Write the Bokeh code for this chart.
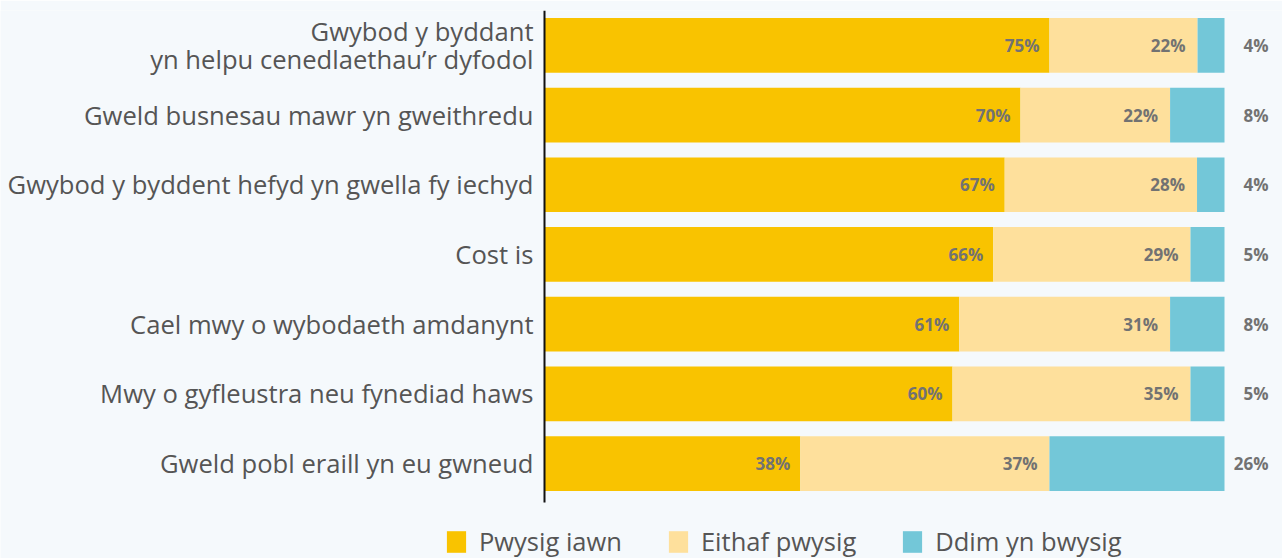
from bokeh.plotting import figure
from bokeh.models import ColumnDataSource, Range1d, Legend, LegendItem, FixedTicker
from bokeh.core.properties import value
from bokeh.embed import file_html
from bokeh.resources import INLINE

categories = [
    "Gwybod y byddant\nyn helpu cenedlaethau\u2019r dyfodol",
    "Gweld busnesau mawr yn gweithredu",
    "Gwybod y byddent hefyd yn gwella fy iechyd",
    "Cost is",
    "Cael mwy o wybodaeth amdanynt",
    "Mwy o gyfleustra neu fynediad haws",
    "Gweld pobl eraill yn eu gwneud",
]
pwysig_iawn = [75, 70, 67, 66, 61, 60, 38]
eithaf_pwysig = [22, 22, 28, 29, 31, 35, 37]
ddim_yn_bwysig = [4, 8, 4, 5, 8, 5, 26]
series_names = ["Pwysig iawn", "Eithaf pwysig", "Ddim yn bwysig"]
colors = ["#F9C300", "#FEE09C", "#73C7D8"]

BG = "#F5F9FC"
LABEL = "#555555"
PCT = "#727272"

n = len(categories)
ypos = [n - 1 - i for i in range(n)]
totals = [a + b + c for a, b, c in zip(pwysig_iawn, eithaf_pwysig, ddim_yn_bwysig)]
f1 = [a / t for a, t in zip(pwysig_iawn, totals)]
f2 = [b / t for b, t in zip(eithaf_pwysig, totals)]
f3 = [c / t for c, t in zip(ddim_yn_bwysig, totals)]
src = ColumnDataSource(dict(
    y=ypos,
    cat=categories,
    zero=[0.0] * n,
    s1=f1, s2=f2, s3=f3,
    e1=f1,
    e2=[a + b for a, b in zip(f1, f2)],
    e3=[a + b + c for a, b, c in zip(f1, f2, f3)],
    t1=[f"{v}%" for v in pwysig_iawn],
    t2=[f"{v}%" for v in eithaf_pwysig],
    t3=[f"{v}%" for v in ddim_yn_bwysig],
))

row_px = 69.7
frame_h = 558 - 10
top = n - 0.5
p = figure(
    width=1282, height=558,
    y_range=Range1d(top - frame_h / row_px, top),
    x_range=Range1d(-544 / 680, (1282 - 544) / 680),
    output_backend="svg", toolbar_location=None,
    min_border_left=0, min_border_right=0, min_border_top=10, min_border_bottom=0,
    background_fill_color=BG, border_fill_color=BG, outline_line_color=None,
)

renderers = p.hbar_stack(["s1", "s2", "s3"], y="y", height=0.785, color=colors,
                         line_color=None, source=src)

common = dict(y="y", source=src, text_font=value("Open Sans"), text_font_style="bold",
              text_font_size="17px", text_color=PCT, text_baseline="middle")
p.text(x="e1", text="t1", text_align="right", x_offset=-10, **common)
p.text(x="e2", text="t2", text_align="right", x_offset=-12, **common)
p.text(x="e3", text="t3", text_align="right", x_offset=44, **common)

# category labels, right-aligned against the axis
p.text(x="zero", y="y", text="cat", source=src, text_align="right", text_baseline="middle",
       x_offset=-11, text_font=value("Open Sans"), text_font_size="25.6px",
       text_color=LABEL, text_line_height=0.8)

p.xaxis.visible = False
p.xgrid.visible = False
p.ygrid.visible = False
yax = p.yaxis[0]
yax.fixed_location = 0
yax.ticker = FixedTicker(ticks=ypos)
yax.bounds = (-0.56, top)
yax.axis_line_color = "#111111"
yax.axis_line_width = 2
yax.major_tick_line_color = None
yax.minor_tick_line_color = None
yax.major_label_standoff = 0
yax.major_label_text_font_size = "0px"
yax.major_label_text_alpha = 0

legend = Legend(
    items=[LegendItem(label=nm, renderers=[r]) for nm, r in zip(series_names, renderers)],
    orientation="horizontal", location=(444, 0),
    glyph_width=24, glyph_height=27, label_standoff=11, spacing=44,
    label_text_font="Open Sans", label_text_font_size="25.5px", label_text_color=LABEL,
    background_fill_alpha=0, border_line_color=None, margin=0, padding=0,
)
p.add_layout(legend)

html = file_html(p, INLINE)
html = html.replace("<body>", f'<body style="margin:0;background:{BG}">', 1)
open("out.html", "w").write(html)
